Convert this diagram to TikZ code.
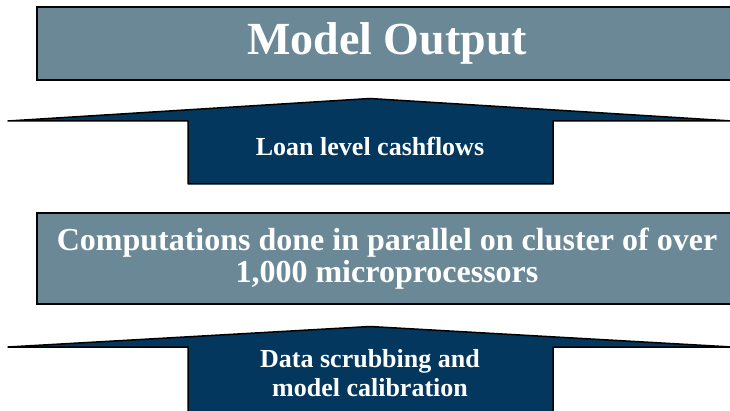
\documentclass[tikz,border=0pt]{standalone}
\usepackage{fontspec}
\setmainfont{Liberation Serif}
\usetikzlibrary{positioning}
\definecolor{stagefill}{RGB}{106,136,150}
\definecolor{flowfill}{RGB}{3,55,94}
\tikzset{stage/.style={draw=black, line width=2pt, fill=stagefill, text=white, font=\bfseries, align=center, minimum width=700pt, inner sep=0pt}}
\tikzset{flow/.style={draw=black, line width=1.5pt, fill=flowfill, line join=round}}
\tikzset{flowtext/.style={text=white, font=\bfseries\fontsize{26}{29}\selectfont, align=center, inner sep=0pt}}

\begin{document}
\begin{tikzpicture}[x=1pt, y=-1pt]
\clip (0,0) rectangle (730,411);

\node (output)  [stage, minimum height=73pt, font=\bfseries\fontsize{46}{50}\selectfont] at (387,43.5) {Model Output};
\node (cluster) [stage, minimum height=91pt, font=\bfseries\fontsize{32}{32}\selectfont] at (387,258.5) {Computations done in parallel on cluster of over\\1,000 microprocessors};

% upper arrow
\coordinate (tipA) at (370,98.5);
\draw [flow] (188,184) -- (188,121) -- (8,121) -- (tipA) -- (732,121) -- (553,121) -- (553,184) -- cycle;
\node (cashflows) [flowtext] at (370,146) {Loan level cashflows};

% lower arrow
\coordinate (tipB) at (370,326.5);
\draw [flow] (188,420) -- (188,347) -- (8,347) -- (tipB) -- (732,347) -- (553,347) -- (553,420) -- cycle;
\node (scrubbing) [flowtext] at (370,373) {Data scrubbing and\\model calibration};

\end{tikzpicture}
\end{document}
